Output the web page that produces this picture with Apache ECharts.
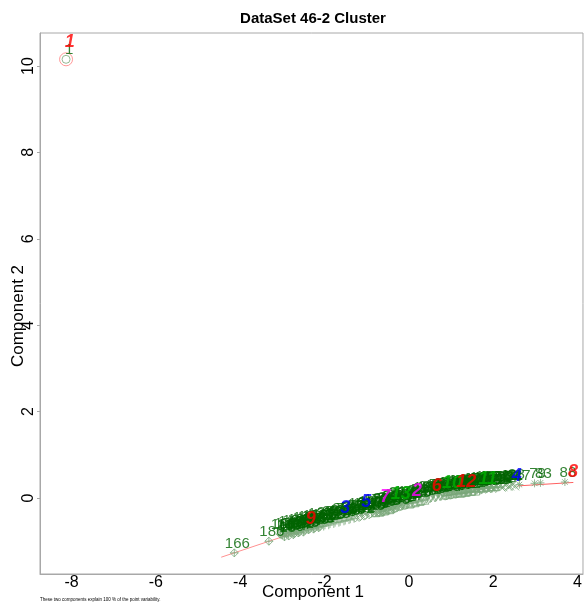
<!DOCTYPE html>
<html>
<head>
<meta charset="utf-8">
<script src="https://cdn.jsdelivr.net/npm/echarts@6/dist/echarts.min.js"></script>
<style>
html, body { margin: 0; padding: 0; background: #fff; }
#chart { width: 585px; height: 604px; }
</style>
</head>
<body>
<div id="chart"></div>
<script>
var FONT = 'Liberation Sans, Arial, sans-serif';

var xTicks = [-8, -6, -4, -2, 0, 2, 4];
var yTicks = [0, 2, 4, 6, 8, 10];

// observations: label, component 1, component 2, cluster
var pointId = [1,
	166, 186, 14, 18, 141, 150, 172, 157, 130, 181, 145, 163, 138, 177, 152, 169, 148, 183, 135,
	160, 174, 143, 185, 154, 139, 178, 146, 165, 132, 180, 156, 170, 137, 184,
	21, 47, 33, 58, 39, 64, 25, 71, 44, 52, 30, 67, 56,
	24, 50, 35, 61, 40, 66, 28, 74, 46, 55, 32, 69, 57,
	95, 102, 111, 98, 117, 106, 123, 109,
	97, 103, 112, 99, 118, 107, 125, 110,
	73, 81, 76, 85, 90, 78, 92,
	75, 82, 77, 86, 91, 80, 94,
	195, 188, 199, 191, 197, 193,
	196, 189, 200, 192, 198, 194,
	2, 5, 8, 11, 15, 19, 23,
	3, 6, 9, 13, 16, 20, 26,
	36, 41, 45, 49, 54, 59, 62,
	37, 43, 48, 51, 53, 60, 63,
	126, 131, 136, 140, 144, 149,
	127, 134, 142, 147, 151, 153,
	155, 159, 162, 167, 171, 175, 179,
	158, 161, 164, 168, 173, 176, 182,
	101, 104, 108, 113, 116, 120, 124, 128, 133,
	100, 105, 114, 115, 119, 121, 122, 129,
	12, 42, 17, 31, 4,
	10, 22, 29, 34, 38,
	27, 79, 83, 88];
var pointX = [-8.13,
	-4.14, -3.32, -3.00, -2.95, -2.90, -2.85, -2.80, -2.74, -2.68, -2.62, -2.56, -2.50, -2.44, -2.38, -2.32, -2.26, -2.20, -2.14, -2.08,
	-3.05, -2.97, -2.87, -2.77, -2.71, -2.65, -2.59, -2.53, -2.47, -2.41, -2.35, -2.29, -2.23, -2.17, -2.11,
	-2.02, -1.96, -1.90, -1.84, -1.78, -1.72, -1.66, -1.60, -1.54, -1.48, -1.42, -1.36, -1.30,
	-2.05, -1.99, -1.93, -1.87, -1.81, -1.75, -1.69, -1.63, -1.57, -1.51, -1.45, -1.39, -1.33,
	-1.24, -1.18, -1.12, -1.06, -1.00, -0.94, -0.88, -0.82,
	-1.27, -1.21, -1.15, -1.09, -1.03, -0.97, -0.91, -0.85,
	-0.76, -0.70, -0.64, -0.58, -0.52, -0.46, -0.40,
	-0.79, -0.73, -0.67, -0.61, -0.55, -0.49, -0.43,
	-0.34, -0.28, -0.22, -0.16, -0.10, -0.04,
	-0.37, -0.31, -0.25, -0.19, -0.13, -0.07,
	0.02, 0.08, 0.14, 0.20, 0.26, 0.32, 0.38,
	-0.01, 0.05, 0.11, 0.17, 0.23, 0.29, 0.35,
	0.44, 0.50, 0.56, 0.62, 0.68, 0.74, 0.80,
	0.41, 0.47, 0.53, 0.59, 0.65, 0.71, 0.77,
	0.86, 0.92, 0.98, 1.04, 1.10, 1.16,
	0.83, 0.89, 0.95, 1.01, 1.07, 1.13,
	1.22, 1.28, 1.34, 1.40, 1.46, 1.52, 1.58,
	1.19, 1.25, 1.31, 1.37, 1.43, 1.49, 1.55,
	1.64, 1.70, 1.76, 1.82, 1.88, 1.94, 2.00, 2.06, 2.12,
	1.61, 1.67, 1.73, 1.79, 1.85, 1.91, 1.97, 2.03,
	2.20, 2.28, 2.36, 2.44, 2.52,
	2.16, 2.24, 2.32, 2.40, 2.48,
	2.62, 2.98, 3.12, 3.70];
var pointY = [10.155,
	-1.27, -1.00, -0.86, -0.90, -0.82, -0.88, -0.80, -0.85, -0.76, -0.81, -0.72, -0.79, -0.68, -0.74, -0.65, -0.72, -0.62, -0.69, -0.60,
	-0.84, -0.80, -0.77, -0.74, -0.82, -0.71, -0.78, -0.67, -0.75, -0.64, -0.71, -0.61, -0.69, -0.58, -0.66,
	-0.66, -0.55, -0.63, -0.52, -0.60, -0.50, -0.57, -0.46, -0.54, -0.44, -0.51, -0.41, -0.48,
	-0.56, -0.63, -0.53, -0.60, -0.50, -0.57, -0.47, -0.55, -0.44, -0.52, -0.41, -0.49, -0.39,
	-0.38, -0.45, -0.35, -0.42, -0.32, -0.39, -0.29, -0.35,
	-0.46, -0.35, -0.43, -0.32, -0.40, -0.29, -0.37, -0.26,
	-0.25, -0.33, -0.22, -0.30, -0.19, -0.27, -0.16,
	-0.34, -0.23, -0.31, -0.20, -0.28, -0.17, -0.25,
	-0.24, -0.12, -0.20, -0.09, -0.17, -0.06,
	-0.14, -0.22, -0.10, -0.18, -0.07, -0.15,
	-0.14, -0.03, -0.11, 0.00, -0.08, 0.03, -0.05,
	-0.04, -0.12, -0.01, -0.09, 0.02, -0.06, 0.05,
	0.05, -0.02, 0.08, 0.00, 0.10, 0.03, 0.12,
	-0.03, 0.07, 0.00, 0.09, 0.02, 0.11, 0.04,
	0.05, 0.14, 0.07, 0.16, 0.09, 0.18,
	0.13, 0.06, 0.15, 0.08, 0.17, 0.10,
	0.11, 0.19, 0.13, 0.21, 0.15, 0.23, 0.16,
	0.19, 0.12, 0.20, 0.14, 0.22, 0.16, 0.24,
	0.24, 0.18, 0.26, 0.20, 0.27, 0.21, 0.28, 0.22, 0.29,
	0.18, 0.25, 0.19, 0.27, 0.21, 0.28, 0.22, 0.29,
	0.24, 0.30, 0.26, 0.31, 0.27,
	0.29, 0.25, 0.31, 0.27, 0.32,
	0.31, 0.34, 0.35, 0.37];
var pointCluster = [1,
	9, 9, 9, 9, 9, 9, 9, 9, 9, 9, 9, 9, 9, 9, 9, 9, 9, 9, 9,
	9, 9, 9, 9, 9, 9, 9, 9, 9, 9, 9, 9, 9, 9, 9,
	3, 3, 3, 3, 3, 3, 3, 3, 3, 3, 3, 3, 3,
	3, 3, 3, 3, 3, 3, 3, 3, 3, 3, 3, 3, 3,
	5, 5, 5, 5, 5, 5, 5, 5,
	5, 5, 5, 5, 5, 5, 5, 5,
	7, 7, 7, 7, 7, 7, 7,
	7, 7, 7, 7, 7, 7, 7,
	13, 13, 13, 13, 13, 13,
	13, 13, 13, 13, 13, 13,
	2, 2, 2, 2, 2, 2, 2,
	2, 2, 2, 2, 2, 2, 2,
	6, 6, 6, 6, 6, 6, 6,
	6, 6, 6, 6, 6, 6, 6,
	10, 10, 10, 10, 10, 10,
	10, 10, 10, 10, 10, 10,
	12, 12, 12, 12, 12, 12, 12,
	12, 12, 12, 12, 12, 12, 12,
	11, 11, 11, 11, 11, 11, 11, 11, 11,
	11, 11, 11, 11, 11, 11, 11, 11,
	4, 4, 4, 4, 4,
	4, 4, 4, 4, 4,
	8, 8, 8, 8];

// cluster labels
var clusterName = ['1', '9', '3', '5', '7', '13', '2', '6', '10', '12', '11', '4', '8'];
var clusterLabelX = [-8.04, -2.33, -1.51, -1.01, -0.56, -0.19, 0.19, 0.66, 1.02, 1.36, 1.87, 2.56, 3.89];
var clusterLabelY = [10.56, -0.49, -0.23, -0.09, 0.02, 0.09, 0.16, 0.28, 0.34, 0.38, 0.44, 0.52, 0.60];
var clusterColor = ['#ff0000', '#ff0000', '#0000ff', '#0000ff', '#ff00ff', '#00b000', '#ff00ff', '#ff0000', '#00b000', '#ff0000', '#00b000', '#0000ff', '#ff0000'];

// visible (flat) ellipses
var ell9X = [-4.45, -2.70];
var ell9Y = [-1.37, -0.80];
var ell8X = [2.58, 3.90];
var ell8Y = [0.28, 0.36];
var ell1 = [-8.13, 10.155];

var pch = {
	1: 'circle',
	2: 'path://M5,0 L10,8.66 L0,8.66 Z',
	3: 'path://M5,0 L5,10 M0,5 L10,5',
	4: 'path://M0,0 L10,10 M10,0 L0,10',
	5: 'path://M5,0 L10,5 L5,10 L0,5 Z',
	6: 'path://M0,0 L10,0 L5,8.66 Z',
	7: 'path://M0,0 L10,0 L10,10 L0,10 Z M0,0 L10,10 M10,0 L0,10',
	8: 'path://M5,0 L5,10 M0,5 L10,5 M1.5,1.5 L8.5,8.5 M8.5,1.5 L1.5,8.5',
	9: 'path://M5,0 L10,5 L5,10 L0,5 Z M5,0 L5,10 M0,5 L10,5',
	10: 'path://M0,5 A5,5 0 1,0 10,5 A5,5 0 1,0 0,5 Z M5,0 L5,10 M0,5 L10,5',
	11: 'path://M5,0 L10,7.5 L0,7.5 Z M5,10 L10,2.5 L0,2.5 Z',
	12: 'path://M0,0 L10,0 L10,10 L0,10 Z M5,0 L5,10 M0,5 L10,5',
	13: 'path://M0,5 A5,5 0 1,0 10,5 A5,5 0 1,0 0,5 Z M1.5,1.5 L8.5,8.5 M8.5,1.5 L1.5,8.5'
};

var series = [];
for (var c = 1; c <= 13; c++) {
	var pts = [];
	for (var i = 0; i < pointId.length; i++) {
		if (pointCluster[i] === c) pts.push([pointX[i], pointY[i]]);
	}
	series.push({
		type: 'scatter',
		symbol: pch[c],
		symbolSize: 8,
		silent: true,
		z: 2,
		itemStyle: { color: 'rgba(0,0,0,0)', borderColor: '#7aa87a', borderWidth: 1 },
		data: pts
	});
}

series.push({
	type: 'line', symbol: 'none', silent: true, z: 1,
	lineStyle: { color: '#ff9090', width: 1 },
	data: [[ell9X[0], ell9Y[0]], [ell9X[1], ell9Y[1]]]
});
series.push({
	type: 'line', symbol: 'none', silent: true, z: 1,
	lineStyle: { color: '#ff6060', width: 1 },
	data: [[ell8X[0], ell8Y[0]], [ell8X[1], ell8Y[1]]]
});
series.push({
	type: 'scatter', symbol: 'circle', symbolSize: 13, silent: true, z: 1,
	itemStyle: { color: 'rgba(0,0,0,0)', borderColor: '#ff8080', borderWidth: 1 },
	data: [ell1]
});

var labelData = [];
for (var j = 0; j < pointId.length; j++) labelData.push([pointX[j], pointY[j], pointId[j]]);
series.push({
	type: 'scatter', symbolSize: 0, silent: true, z: 3,
	label: {
		show: true, position: 'inside', offset: [3, -9],
		formatter: function (p) { return p.data[2]; },
		color: '#006400', fontSize: 15, fontFamily: FONT
	},
	data: labelData
});

var clusData = [];
for (var k = 0; k < clusterName.length; k++) {
	clusData.push({
		value: [clusterLabelX[k], clusterLabelY[k], clusterName[k]],
		label: { color: clusterColor[k] }
	});
}
series.push({
	type: 'scatter', symbolSize: 0, silent: true, z: 4,
	label: {
		show: true, position: 'inside',
		formatter: function (p) { return p.data.value[2]; },
		fontSize: 18, fontWeight: 'bold', fontStyle: 'italic', fontFamily: FONT
	},
	data: clusData
});

var myChart = echarts.init(document.getElementById('chart'));
var option = {
	animation: false,
	grid: { left: 40, top: 33, right: -1, bottom: 30, show: true, borderColor: '#a8a8a8', borderWidth: 1 },
	xAxis: {
		type: 'value', min: -8.748, max: 4.129, splitNumber: 6,
		splitLine: { show: false },
		axisLine: { show: true, onZero: false, lineStyle: { color: '#a8a8a8' } },
		axisTick: { show: false },
		axisLabel: { customValues: xTicks, fontSize: 16, color: '#000', margin: 1, fontFamily: FONT }
	},
	yAxis: {
		type: 'value', min: -1.759, max: 10.764, splitNumber: 6,
		splitLine: { show: false },
		axisLine: { show: true, onZero: false, lineStyle: { color: '#a8a8a8' } },
		axisTick: { show: true, length: 3, customValues: yTicks, lineStyle: { color: '#a8a8a8' } },
		axisLabel: { customValues: yTicks, rotate: 90, fontSize: 16, color: '#000', margin: 3, fontFamily: FONT }
	},
	graphic: [
		{ type: 'text', x: 313, y: 19, style: { text: 'DataSet 46-2 Cluster', fontSize: 15, fontWeight: 'bold', fontFamily: FONT, fill: '#000', align: 'center', verticalAlign: 'middle' } },
		{ type: 'text', x: 313, y: 592, style: { text: 'Component 1', fontSize: 17, fontFamily: FONT, fill: '#000', align: 'center', verticalAlign: 'middle' } },
		{ type: 'text', x: 18, y: 316, rotation: Math.PI / 2, style: { text: 'Component 2', fontSize: 17, fontFamily: FONT, fill: '#000', align: 'center', verticalAlign: 'middle' } },
		{ type: 'text', x: 40, y: 600, style: { text: 'These two components explain 100 % of the point variability.', fontSize: 4.5, fontFamily: FONT, fill: '#000', align: 'left', verticalAlign: 'middle' } }
	],
	series: series
};
myChart.setOption(option);
</script>
</body>
</html>
